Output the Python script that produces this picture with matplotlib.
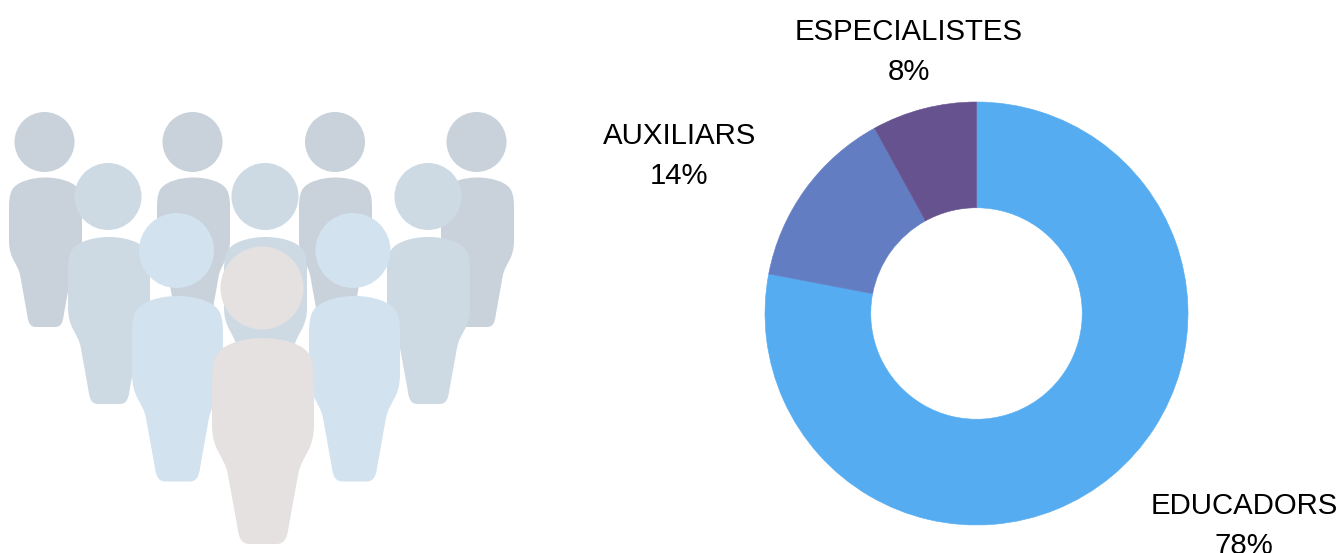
import matplotlib
matplotlib.use("Agg")
import matplotlib.pyplot as plt
from matplotlib.patches import Circle, PathPatch
from matplotlib.path import Path

plt.rcParams['font.family'] = ['Liberation Sans', 'DejaVu Sans']

categories = ["EDUCADORS", "AUXILIARS", "ESPECIALISTES"]
shares = [78, 14, 8]
slice_colors = ["#55ACF0", "#637DC3", "#66528F"]
label_centres = [(1244, 505.5), (679.5, 135.5), (908.5, 31.5)]
LINE_GAP = 40

W, H = 1339, 553
fig = plt.figure(figsize=(W / 100, H / 100), dpi=100, facecolor="white")

# pictogram: (head x, head y, head r, body left, body right, body top, body bottom, colour)
BACK, MID, FRONT, LEAD = "#C9D2DA", "#CDDAE4", "#D2E2EF", "#E4E1E0"
people = [
    (44.5, 142, 30, 9, 82, 177.5, 327, BACK),
    (192.5, 142, 30, 157, 230, 177.5, 327, BACK),
    (335, 142, 30, 299, 372, 177.5, 327, BACK),
    (476.5, 142, 30, 441, 514, 177.5, 327, BACK),
    (108, 196.5, 33.5, 68, 150, 237, 404, MID),
    (265, 196.5, 33.5, 224, 307, 237, 404, MID),
    (428, 196.5, 33.5, 387, 470, 237, 404, MID),
    (176.5, 250.5, 37.5, 132, 223, 296, 481.5, FRONT),
    (353, 250.5, 37.5, 309, 400, 296, 481.5, FRONT),
    (262, 288, 41.5, 212, 314, 338, 544, LEAD),
]


def body_path(l, r, t, b):
    cx, hw, h = (l + r) / 2, (r - l) / 2, b - t
    P = lambda u, v: (cx + u * hw, t + v * h)
    verts = [
        P(0, 0),
        P(-0.4, 0), P(-0.72, 0.03), P(-0.84, 0.06),
        P(-0.96, 0.085), P(-1, 0.13), P(-1, 0.2),
        P(-1, 0.42),
        P(-1, 0.55), P(-0.76, 0.57), P(-0.69, 0.66),
        P(-0.5, 0.92),
        P(-0.47, 0.98), P(-0.4, 1), P(-0.26, 1),
        P(0.26, 1),
        P(0.4, 1), P(0.47, 0.98), P(0.5, 0.92),
        P(0.69, 0.66),
        P(0.76, 0.57), P(1, 0.55), P(1, 0.42),
        P(1, 0.2),
        P(1, 0.13), P(0.96, 0.085), P(0.84, 0.06),
        P(0.72, 0.03), P(0.4, 0), P(0, 0),
    ]
    C, L = Path.CURVE4, Path.LINETO
    codes = [Path.MOVETO, C, C, C, C, C, C, L, C, C, C, L, C, C, C, L, C, C, C, L, C, C, C, L, C, C, C, C, C, C]
    return Path(verts, codes)


overlay = fig.add_axes([0, 0, 1, 1], zorder=2)
overlay.set_xlim(0, W)
overlay.set_ylim(H, 0)
overlay.axis("off")
overlay.patch.set_alpha(0)

for hx, hy, hr, l, r, t, b, col in people:
    overlay.add_patch(PathPatch(body_path(l, r, t, b), facecolor=col, edgecolor="none"))
    overlay.add_patch(Circle((hx, hy), hr, facecolor=col, edgecolor="none"))

# donut
CX, CY, R = 976.5, 313.5, 211.5
ax = fig.add_axes([(CX - R) / W, 1 - (CY + R) / H, 2 * R / W, 2 * R / H], zorder=1)
wedges, _ = ax.pie(shares, colors=slice_colors, startangle=90, counterclock=False, radius=1,
                   wedgeprops=dict(width=0.5, linewidth=0.4))
for wedge, col in zip(wedges, slice_colors):
    wedge.set_edgecolor(col)
ax.set_xlim(-1, 1)
ax.set_ylim(-1, 1)

for name, value, (x, y) in zip(categories, shares, label_centres):
    overlay.text(x, y, name, ha="center", va="center", fontsize=21.2, color="#000000")
    overlay.text(x, y + LINE_GAP, f"{value}%", ha="center", va="center", fontsize=21.2, color="#000000")

fig.savefig("out.png", dpi=100, facecolor="white")
